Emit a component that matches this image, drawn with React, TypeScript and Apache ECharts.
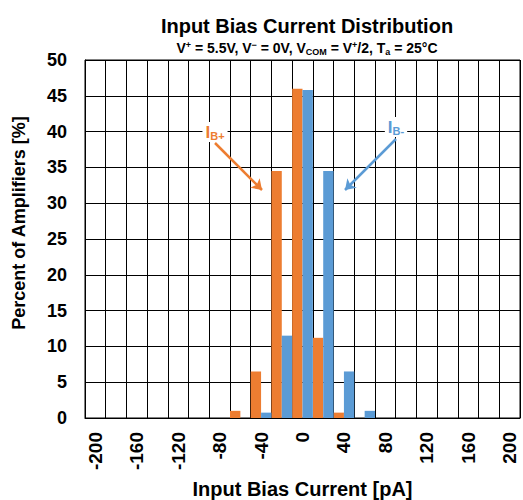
import React, { useEffect, useRef } from "react";
import * as echarts from "echarts";

const categories = ["-200","-180","-160","-140","-120","-100","-80","-60","-40","-20","0","20","40","60","80","100","120","140","160","180","200"];
const ibPlus = [0,0,0,0,0,0,0,1.0,6.5,34.5,46.0,11.2,0.75,0,0,0,0,0,0,0,0];
const ibMinus = [0,0,0,0,0,0,0,0,0.75,11.5,45.8,34.5,6.5,1.0,0,0,0,0,0,0,0];

const ORANGE = "#ED7D31";
const BLUE = "#5B9BD5";
const FONT = "'Liberation Sans', Arial, sans-serif";

export default function App() {
  const ref = useRef<HTMLDivElement>(null);
  useEffect(() => {
    const chart = echarts.init(ref.current!, null, { renderer: "svg" });
    const supSub = {
      n: { fontSize: 14, fontWeight: "bold", fontFamily: FONT, color: "#000", lineHeight: 16 },
      sup: { fontSize: 9, fontWeight: "bold", fontFamily: FONT, color: "#000", lineHeight: 9, verticalAlign: "top" },
      sub: { fontSize: 9, fontWeight: "bold", fontFamily: FONT, color: "#000", lineHeight: 9, verticalAlign: "bottom" },
    };
    chart.setOption({
      animation: false,
      backgroundColor: "#fff",
      title: [
        {
          text: "Input Bias Current Distribution",
          left: 302, top: 11, textAlign: "center",
          textStyle: { fontSize: 20, fontWeight: "bold", fontFamily: FONT, color: "#000" },
        },
        {
          text: "{n|V}{sup|+}{n| = 5.5V, V}{sup|−}{n| = 0V, V}{sub|COM}{n| = V}{sup|+}{n|/2, T}{sub|a}{n| = 25°C}",
          left: 302, top: 35, textAlign: "center",
          textStyle: { rich: supSub },
        },
      ],
      grid: {
        left: 85, right: 3, top: 60, bottom: 82, show: true, borderColor: "#000", borderWidth: 1,
        containLabel: false, outerBoundsMode: "none",
      },
      xAxis: {
        type: "category",
        data: categories,
        name: "Input Bias Current [pA]",
        nameLocation: "middle",
        nameGap: 61,
        nameTextStyle: { fontSize: 20, fontWeight: "bold", fontFamily: FONT, color: "#000" },
        axisLine: { lineStyle: { color: "#000", width: 1 } },
        axisTick: { show: false },
        axisLabel: { interval: 1, rotate: 90, margin: 14, fontSize: 19, fontWeight: "bold", fontFamily: FONT, color: "#000" },
        splitLine: { show: true, interval: 0, lineStyle: { color: "#000", width: 1 } },
      },
      yAxis: {
        type: "value",
        min: 0, max: 50, interval: 5,
        name: "Percent of Amplifiers [%]",
        nameLocation: "middle",
        nameGap: 57,
        nameTextStyle: { fontSize: 18, fontWeight: "bold", fontFamily: FONT, color: "#000", padding: [0, 0, 0, 32] },
        axisLine: { show: true, lineStyle: { color: "#000", width: 1 } },
        axisTick: { show: false },
        axisLabel: { margin: 18, fontSize: 18, fontWeight: "bold", fontFamily: FONT, color: "#000" },
        splitLine: { show: true, lineStyle: { color: "#000", width: 1 } },
      },
      series: [
        {
          type: "bar", name: "IB+", data: ibPlus, itemStyle: { color: ORANGE },
          barGap: "0%", barCategoryGap: "0%",
          markLine: {
            silent: true, symbol: ["none", "arrow"], symbolSize: 10,
            label: { show: false },
            lineStyle: { color: ORANGE, width: 2.5, type: "solid" },
            data: [[{ x: 215, y: 143 }, { x: 262, y: 190 }]],
          },
        },
        {
          type: "bar", name: "IB-", data: ibMinus, itemStyle: { color: BLUE },
          barGap: "0%", barCategoryGap: "0%",
          markLine: {
            silent: true, symbol: ["none", "arrow"], symbolSize: 10,
            label: { show: false },
            lineStyle: { color: BLUE, width: 2.5, type: "solid" },
            data: [[{ x: 396, y: 139 }, { x: 345, y: 190 }]],
          },
        },
      ],
      graphic: [
        {
          type: "text", x: 215, y: 132, z: 100,
          style: {
            text: "{a|I}{b|B+}",
            align: "center", verticalAlign: "middle",
            backgroundColor: "#fff", padding: [1, 3, 1, 3],
            rich: {
              a: { fontSize: 17, fontWeight: "bold", fontFamily: FONT, fill: ORANGE, lineHeight: 18 },
              b: { fontSize: 11, fontWeight: "bold", fontFamily: FONT, fill: ORANGE, lineHeight: 11, verticalAlign: "bottom" },
            },
          },
        },
        {
          type: "text", x: 396, y: 127, z: 100,
          style: {
            text: "{a|I}{b|B-}",
            align: "center", verticalAlign: "middle",
            backgroundColor: "#fff", padding: [1, 3, 1, 3],
            rich: {
              a: { fontSize: 17, fontWeight: "bold", fontFamily: FONT, fill: BLUE, lineHeight: 18 },
              b: { fontSize: 11, fontWeight: "bold", fontFamily: FONT, fill: BLUE, lineHeight: 11, verticalAlign: "bottom" },
            },
          },
        },
      ],
    });
    return () => chart.dispose();
  }, []);
  return <div ref={ref} style={{ width: 523, height: 500, position: "absolute", left: 0, top: 0 }} />;
}
